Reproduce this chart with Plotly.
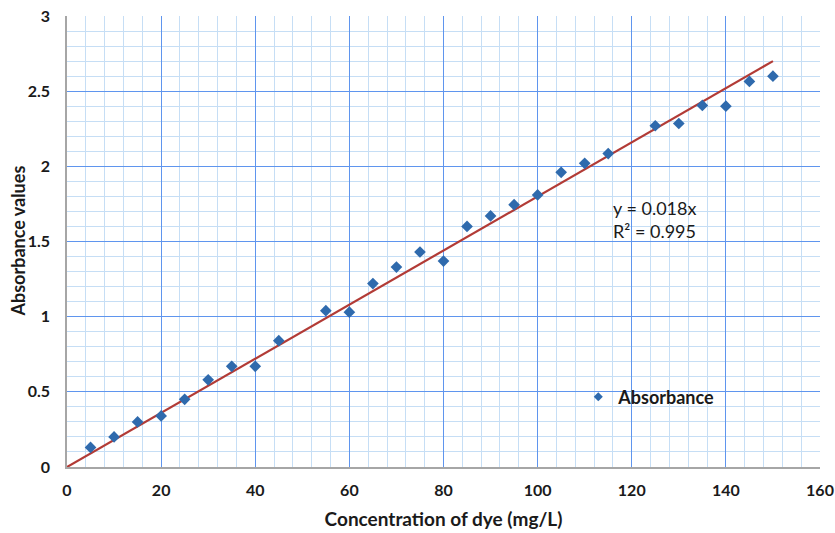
import plotly.graph_objects as go

# Calibration data: dye concentration (mg/L) vs measured absorbance
concentration = [5, 10, 15, 20, 25, 30, 35, 40, 45, 55, 60, 65, 70, 75, 80,
                 85, 90, 95, 100, 105, 110, 115, 125, 130, 135, 140, 145, 150]
absorbance = [0.13, 0.20, 0.30, 0.34, 0.45, 0.58, 0.67, 0.67, 0.84, 1.04, 1.03,
              1.22, 1.33, 1.43, 1.37, 1.60, 1.67, 1.745, 1.81, 1.96, 2.02, 2.085,
              2.27, 2.285, 2.405, 2.40, 2.565, 2.60]

# Linear fit through the origin
slope = 0.018
r_squared = 0.995
fit_x = [0, 150]
fit_y = [slope * v for v in fit_x]

FONT = "Lato"
TEXT = "#1a1a1a"
MAJOR = "#5f95ee"
MINOR = "#c6def5"
POINT = "#2f6aad"

fig = go.Figure()

fig.add_trace(go.Scatter(
    x=fit_x, y=fit_y, mode="lines",
    line=dict(color="#b23b36", width=2.2),
    showlegend=False, hoverinfo="skip",
))

fig.add_trace(go.Scatter(
    x=concentration, y=absorbance, mode="markers", name="Absorbance",
    marker=dict(symbol="diamond", size=9, color=POINT),
    showlegend=False, legendgroup="abs",
))

# legend key with a smaller marker than the plotted points
fig.add_trace(go.Scatter(
    x=[None], y=[None], mode="markers", name="Absorbance",
    marker=dict(symbol="diamond", size=7, color=POINT),
    legendgroup="abs",
))

fig.add_annotation(
    x=0.723, y=0.548, xref="paper", yref="paper",
    xanchor="left", yanchor="middle", showarrow=False, align="left",
    text=f"y = {slope}x<br>R² = {r_squared}",
    font=dict(family=FONT, size=18, color=TEXT),
)

# vertical axis title placed in the left margin
fig.add_annotation(
    x=0, y=0.5, xref="paper", yref="paper", xshift=-50,
    xanchor="center", yanchor="middle", showarrow=False, textangle=-90,
    text="Absorbance values",
    font=dict(family=FONT, size=18, color=TEXT, weight="bold"),
)

axis_common = dict(
    showgrid=True, gridcolor=MAJOR, gridwidth=1, automargin=False,
    zeroline=False, ticks="", linecolor="#a6a6a6", linewidth=1.5, showline=True,
    tickfont=dict(family=FONT, size=16, color=TEXT, weight="bold"),
)

fig.update_xaxes(
    range=[0, 160], dtick=20, tick0=0,
    minor=dict(dtick=4, showgrid=True, gridcolor=MINOR, gridwidth=1),
    title=dict(text="Concentration of dye (mg/L)",
               font=dict(family=FONT, size=19, color=TEXT, weight="bold")),
    ticklabelstandoff=8,
    **axis_common,
)
fig.update_yaxes(
    range=[0, 3], dtick=0.5, tick0=0,
    minor=dict(dtick=0.1, showgrid=True, gridcolor=MINOR, gridwidth=1),
    ticklabelstandoff=12,
    **axis_common,
)

fig.update_layout(
    width=835, height=533,
    margin=dict(l=67, r=15, t=16, b=66),
    paper_bgcolor="white", plot_bgcolor="white",
    legend=dict(
        x=0.679, y=0.155, xanchor="left", yanchor="middle",
        bgcolor="rgba(0,0,0,0)",
        font=dict(family=FONT, size=18, color=TEXT, weight="bold"),
    ),
)

fig.write_html("out.html")
